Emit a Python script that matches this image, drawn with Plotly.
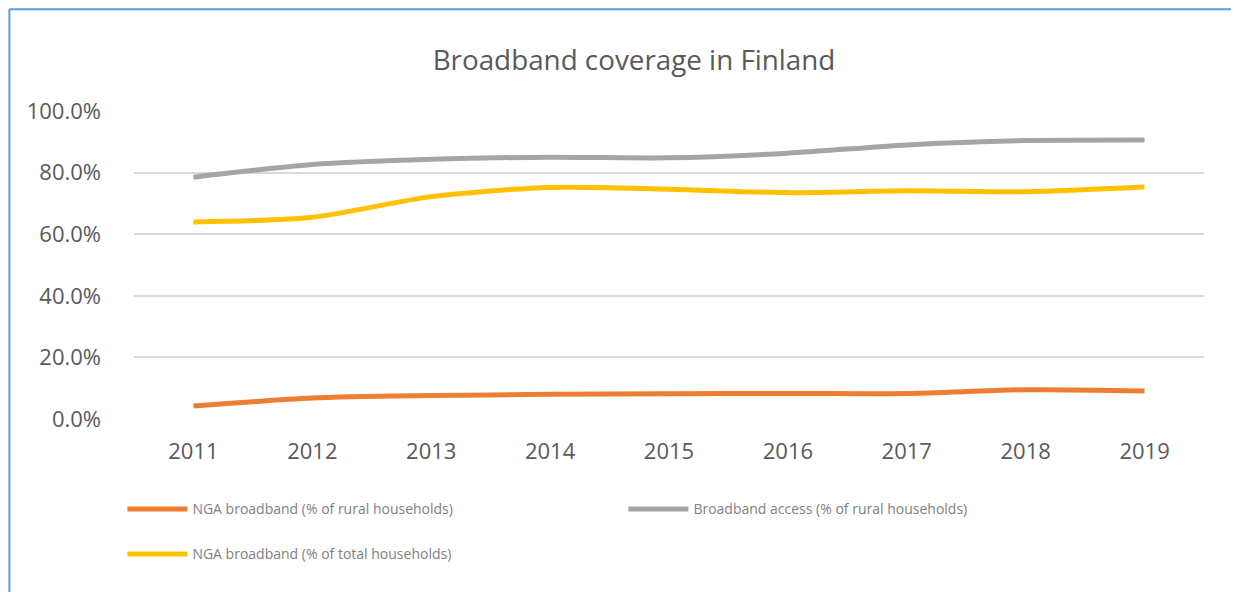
import plotly.graph_objects as go

years = ["2011", "2012", "2013", "2014", "2015", "2016", "2017", "2018", "2019"]
nga_rural = [0.042, 0.068, 0.076, 0.080, 0.082, 0.083, 0.083, 0.095, 0.091]
access_rural = [0.785, 0.826, 0.843, 0.850, 0.848, 0.863, 0.890, 0.904, 0.906]
nga_total = [0.640, 0.655, 0.722, 0.752, 0.746, 0.735, 0.741, 0.738, 0.753]

# page has an 8px body margin, so work in figure pixels = page pixels - 8
OFF = 8
W, H = 1239 - OFF, 592 - OFF
L, T = 125.6, 111 - OFF
pw, ph = 1070.0, 308.5
R, B = W - L - pw, H - T - ph


def px_x(p):
    return (p - OFF - L) / pw


def px_y(p):
    return (T + ph - (p - OFF)) / ph


FONT = "Open Sans"
TXT = "#595959"

fig = go.Figure()

series = [
    ("NGA broadband (% of rural households)", nga_rural, "#ED7D31", "legend"),
    ("Broadband access (% of rural households)", access_rural, "#A5A5A5", "legend"),
    ("NGA broadband (% of total households)", nga_total, "#FFC000", "legend2"),
]
for name, vals, col, lg in series:
    fig.add_trace(go.Scatter(
        x=years, y=vals, name=name, mode="lines",
        line=dict(color=col, width=5, shape="spline", smoothing=0.8),
        legend=lg,
    ))

# outer chart-area frame: only the top and left edges are in view
frame = dict(type="line", xref="paper", yref="paper",
             line=dict(color="#5B9BD5", width=2), layer="below")
fig.add_shape(x0=px_x(OFF + 1), x1=px_x(1300), y0=px_y(OFF + 1), y1=px_y(OFF + 1), **frame)
fig.add_shape(x0=px_x(OFF + 1), x1=px_x(OFF + 1), y0=px_y(OFF + 1), y1=px_y(700), **frame)

legend_common = dict(
    orientation="h", xanchor="left", yanchor="middle",
    font=dict(family=FONT, size=14, color="#7F7F7F"),
    entrywidth=426, entrywidthmode="pixels", itemwidth=60,
    bgcolor="rgba(0,0,0,0)",
)

fig.update_layout(
    width=W, height=H,
    margin=dict(l=L, r=R, t=T, b=B, pad=0),
    paper_bgcolor="white", plot_bgcolor="white",
    title=dict(text="Broadband coverage in Finland", x=(634 - OFF) / W, xanchor="center",
               y=1 - (60 - OFF) / H, yanchor="middle",
               font=dict(family=FONT, size=27.8, color=TXT)),
    xaxis=dict(type="category", range=[-0.5, 8.5], showgrid=False, zeroline=False,
               showline=False, ticks="", ticklabelstandoff=17,
               tickfont=dict(family=FONT, size=22, color=TXT)),
    yaxis=dict(range=[0, 1.0], dtick=0.2, tickformat=".1%", showgrid=True,
               gridcolor="#D9D9D9", gridwidth=1.5, zeroline=False, showline=False,
               ticks="", ticklabelstandoff=32,
               tickfont=dict(family=FONT, size=22, color=TXT)),
    legend=dict(x=px_x(122), y=px_y(510), **legend_common),
    legend2=dict(x=px_x(122), y=px_y(555), **legend_common),
)

fig.write_html("out.html")
